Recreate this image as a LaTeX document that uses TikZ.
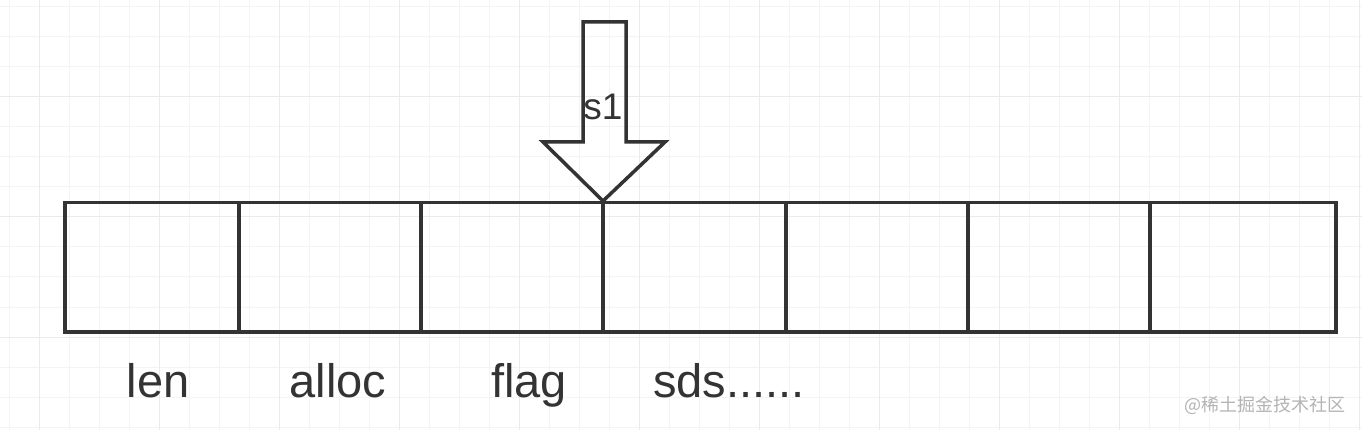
\documentclass[tikz,border=0pt]{standalone}
\usepackage{fontspec}
\setmainfont{Liberation Sans}
\newfontfamily\cjk{Noto Sans CJK SC}
\definecolor{ink}{HTML}{333333}
\definecolor{gridminor}{HTML}{F4F4F4}
\definecolor{gridmajor}{HTML}{EBEBEB}
\definecolor{wm}{HTML}{B4B4B4}
\begin{document}
\begin{tikzpicture}[x=1pt,y=-1pt,
  cell/.style={draw=ink,line width=3.5pt,rectangle,inner sep=0pt,minimum height=129pt,anchor=north west},
  lbl/.style={font=\fontsize{47}{56}\selectfont,text=ink,anchor=base,inner sep=0pt},
  arrowshape/.style={draw=ink,line width=3.5pt,line join=miter}]
\useasboundingbox (0,0) rectangle (1362,430);
\fill[white] (0,0) rectangle (1362,430);
% grid
\foreach \x in {9,39,...,1359} \draw[gridminor,line width=1pt] (\x,0) -- (\x,430);
\foreach \y in {7,37,...,427} \draw[gridminor,line width=1pt] (0,\y) -- (1362,\y);
\foreach \x in {39,159,...,1359} \draw[gridmajor,line width=1pt] (\x,0) -- (\x,430);
\foreach \y in {97,217,337} \draw[gridmajor,line width=1pt] (0,\y) -- (1362,\y);
% cells
\node[cell,minimum width=174pt] (c1) at (63,201) {};
\node[cell,minimum width=182pt] (c2) at (237,201) {};
\node[cell,minimum width=182pt] (c3) at (419,201) {};
\node[cell,minimum width=183pt] (c4) at (601,201) {};
\node[cell,minimum width=182pt] (c5) at (784,201) {};
\node[cell,minimum width=182pt] (c6) at (966,201) {};
\node[cell,minimum width=186pt] (c7) at (1148,201) {};
% arrow
\coordinate (tip) at (603,201);
\draw[arrowshape] (tip) -- (543,142) -- (583,142) -- (583,22) -- (626,22) -- (626,142) -- (665,142) -- cycle;
\node[font=\fontsize{37}{44}\selectfont,text=ink,anchor=base,inner sep=0pt] (s1) at (603,120) {s1};
% labels
\node[lbl] (len) at (158,397) {len};
\node[lbl] (alloc) at (338,397) {alloc};
\node[lbl] (flag) at (529,397) {flag};
\node[lbl] (sds) at (729,397) {sds......};
% watermark
\node[font=\cjk\fontsize{18}{20}\selectfont,text=wm,anchor=east,inner sep=0pt] (wmk) at (1346,405) {@稀土掘金技术社区};
\end{tikzpicture}
\end{document}
